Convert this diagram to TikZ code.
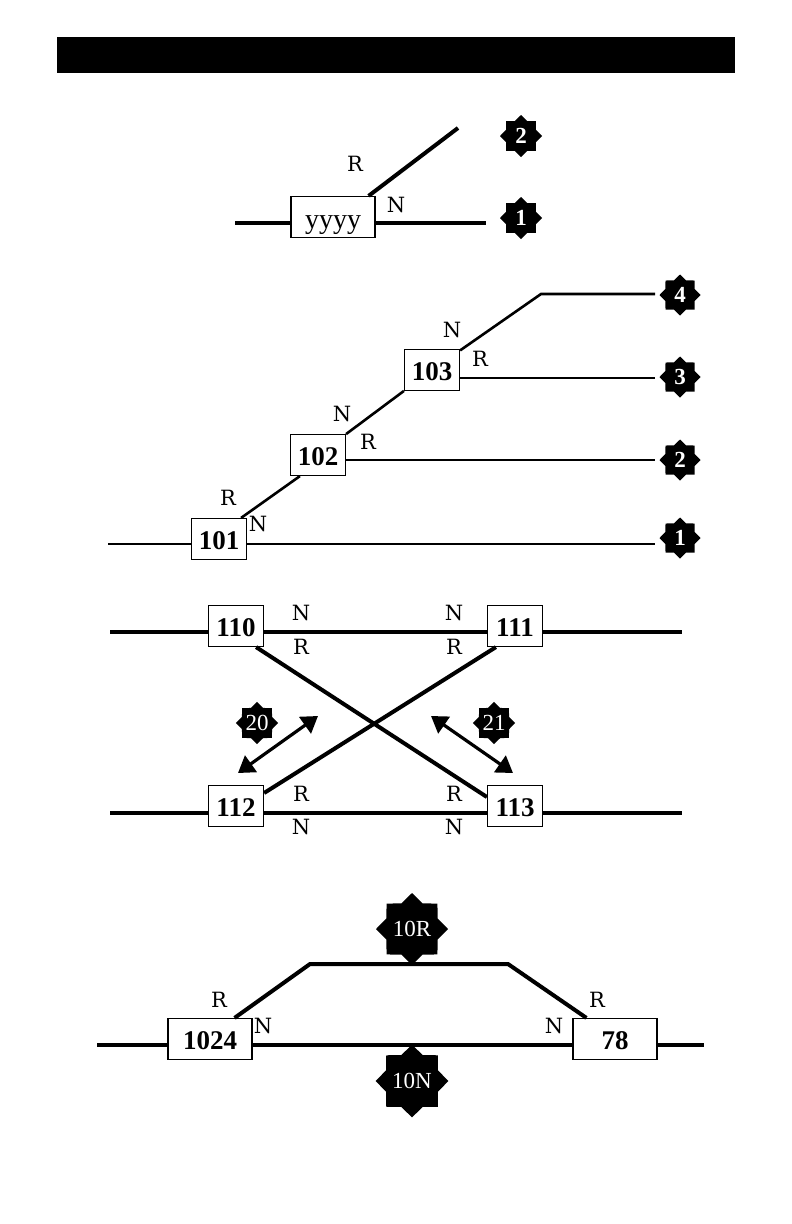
\documentclass[tikz,border=0pt]{standalone}
\usepackage{fontspec}
\setmainfont{Liberation Serif}
\newfontfamily\tagfont{DejaVu Serif}
\usetikzlibrary{arrows.meta,shapes.geometric}
\tikzset{
  relaybox/.style={draw,line width=1.2pt,fill=white,minimum width=55pt,minimum height=41pt,inner sep=0pt,text height=20pt,text depth=0pt,font=\fontsize{27}{27}\selectfont\bfseries},
  widebox/.style={relaybox,minimum width=84pt},
  tag/.style={inner sep=0pt,font=\fontsize{21}{21}\selectfont\tagfont},
  badge/.style={star,star points=8,star point ratio=1.3,fill=black,text=white,inner sep=0pt,minimum size=42pt,font=\fontsize{23}{23}\selectfont},
  bigbadge/.style={badge,minimum size=72pt},
  thick track/.style={line width=4pt},
  thin track/.style={line width=2.6pt},
  swing/.style={line width=3.2pt,{Triangle[length=16pt,width=20pt]}-{Triangle[length=16pt,width=20pt]}}
}
\begin{document}
\begin{tikzpicture}[x=1pt,y=-1pt]
  \useasboundingbox (0,0) rectangle (792,1224);
  \node[fill=black,minimum width=678pt,minimum height=36pt,inner sep=0pt] (header) at (396,55) {};
  % top
  \node[relaybox,minimum width=84pt,font=\fontsize{28}{28}\selectfont,text height=22pt,text depth=0pt] (byyyy) at (333,217) {yyyy};
  \coordinate (topleft) at (235,223);
  \coordinate (topright) at (486,223);
  \coordinate (topend) at (458,128);
  \draw[thick track] (topleft) -- (byyyy.west |- topleft);
  \draw[thick track] (byyyy.east |- topright) -- (topright);
  \draw[thick track] ([xshift=-7pt]byyyy.north east) -- (topend);
  \node[tag] (topr) at (355,164) {R};
  \node[tag] (topn) at (396,205) {N};
  \node[badge] (topb2) at (521,136) {\textbf{2}};
  \node[badge] (topb1) at (521,218) {\textbf{1}};
  % ladder
  \foreach \name/\x/\y in {101/219/539,102/318/455,103/432/370}
    \node[relaybox] (b\name) at (\x,\y) {\name};
  \foreach \n/\y in {1/538,2/460,3/377,4/295}
    \node[badge,minimum size=41pt] (lad\n) at (680,\y) {\textbf{\n}};
  \coordinate (ladleft) at (108,544);
  \coordinate (ladbend) at (541,294);
  \coordinate (ladenda) at (655,544);
  \coordinate (ladendb) at (655,460);
  \coordinate (ladendc) at (655,378);
  \coordinate (ladendd) at (655,294);
  \draw[thin track] (ladleft) -- (b101.west |- ladleft);
  \draw[thin track] (b101.east |- ladenda) -- (ladenda);
  \draw[thin track] (b102.east |- ladendb) -- (ladendb);
  \draw[thin track] (b103.east |- ladendc) -- (ladendc);
  \draw[thin track] ([xshift=-6pt]b101.north east) -- ([xshift=10pt]b102.south west);
  \draw[thin track] (b102) -- (b103);
  \draw[thin track] (b103) -- (ladbend) -- (ladendd);
  \foreach \t/\x/\y in {N/452/330,R/480/359,N/342/414,R/368/442,R/228/498,N/258/524}
    \node[tag] (lad\t\x) at (\x,\y) {\t};
  % crossing
  \foreach \name/\x/\y in {110/236/626,111/515/626,112/236/806,113/515/806}
    \node[relaybox] (b\name) at (\x,\y) {\name};
  \coordinate (upleft) at (110,632);
  \coordinate (upright) at (682,632);
  \coordinate (lowleft) at (110,813);
  \coordinate (lowright) at (682,813);
  \draw[thick track] (upleft) -- (b110.west |- upleft);
  \draw[thick track] (b110.east |- upleft) -- (b111.west |- upleft);
  \draw[thick track] (b111.east |- upright) -- (upright);
  \draw[thick track] (lowleft) -- (b112.west |- lowleft);
  \draw[thick track] (b112.east |- lowleft) -- (b113.west |- lowleft);
  \draw[thick track] (b113.east |- lowright) -- (lowright);
  \draw[thick track] ([xshift=-8pt]b110.south east) -- ([yshift=9pt]b113.west);
  \draw[thick track] ([xshift=9pt]b111.south west) -- ([yshift=13pt]b112.east);
  \foreach \t/\x/\y in {N/301/613,R/301/647,N/454/613,R/454/647,R/301/794,N/301/827,R/454/794,N/454/827}
    \node[tag] (cross\t\x\y) at (\x,\y) {\t};
  \node[badge] (b20) at (257,723) {20};
  \node[badge] (b21) at (494,723) {21};
  \coordinate (sw20a) at (238,773);
  \coordinate (sw20b) at (318,716);
  \coordinate (sw21a) at (431,716);
  \coordinate (sw21b) at (513,773);
  \draw[swing] (sw20a) -- (sw20b);
  \draw[swing] (sw21a) -- (sw21b);
  % bottom
  \node[widebox] (b1024) at (210,1039) {1024};
  \node[widebox] (b78) at (615,1039) {78};
  \coordinate (botleft) at (97,1045);
  \coordinate (botright) at (704,1045);
  \coordinate (botbenda) at (310,964);
  \coordinate (botbendb) at (508,964);
  \draw[thick track] (botleft) -- (b1024.west |- botleft);
  \draw[thick track] (b1024.east |- botleft) -- (b78.west |- botleft);
  \draw[thick track] (b78.east |- botright) -- (botright);
  \draw[thick track] ([xshift=-18pt]b1024.north east) -- (botbenda) -- (botbendb) -- ([xshift=14pt]b78.north west);
  \foreach \t/\x/\y in {R/219/1000,N/263/1026,N/554/1026,R/597/1000}
    \node[tag] (bot\t\x) at (\x,\y) {\t};
  \node[bigbadge] (b10r) at (412,929) {10R};
  \node[bigbadge] (b10n) at (412,1081) {10N};
\end{tikzpicture}
\end{document}
